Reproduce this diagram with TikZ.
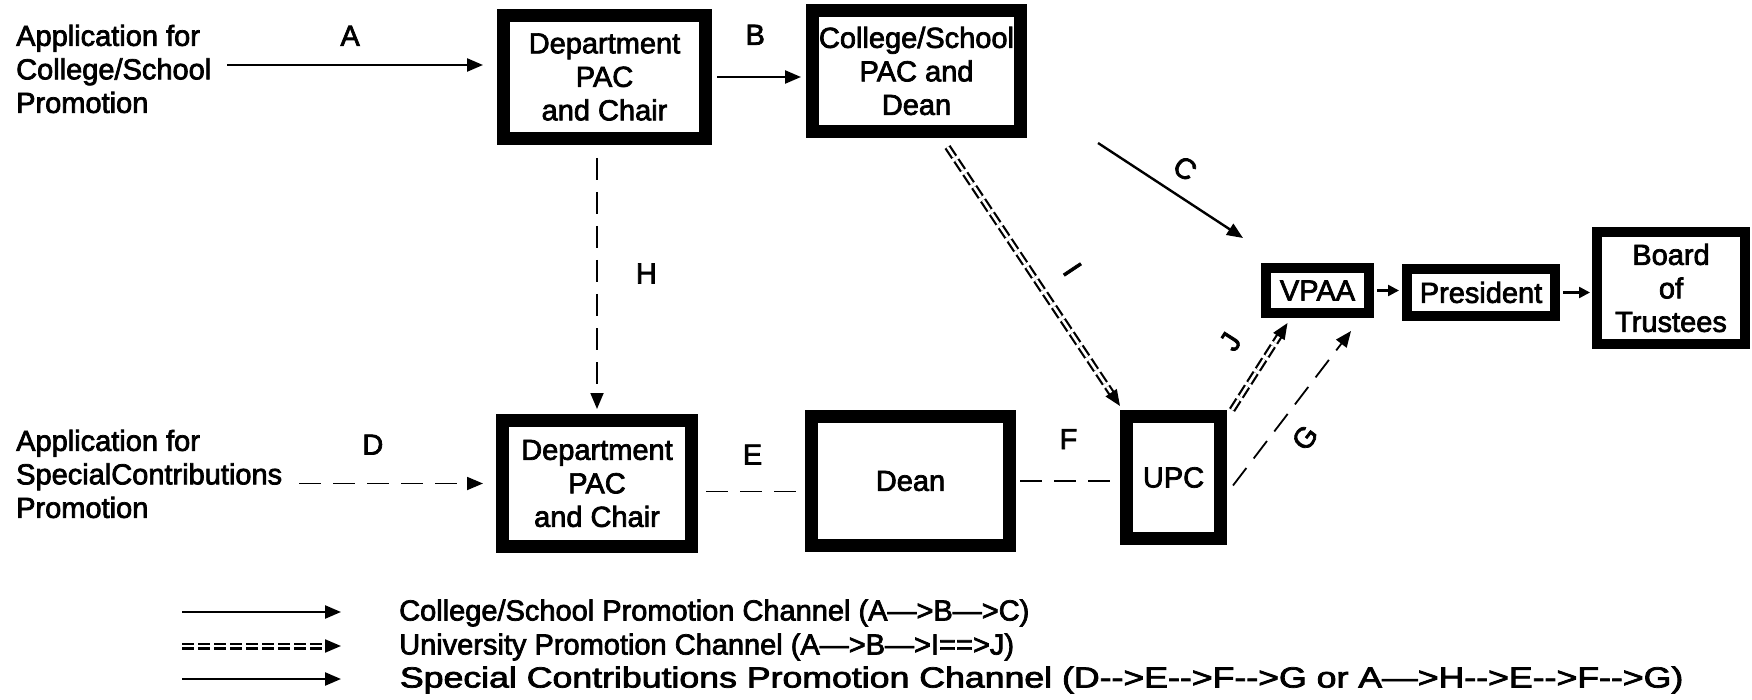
\documentclass[tikz,border=0pt]{standalone}
\usepackage{fontspec}
\setmainfont{Liberation Sans}
\newfontfamily\heavyfont[FakeBold=2.5]{Liberation Sans}
\usetikzlibrary{calc, arrows.meta, positioning}

\begin{document}
\begin{tikzpicture}[x=1pt, y=-1pt,
    every node/.style={font=\heavyfont\fontsize{29}{33.5}\selectfont, inner sep=3pt},
    stage/.style={draw, line width=13pt, inner sep=0pt, align=center},
    smallstage/.style={draw, line width=10pt, inner sep=0pt, align=center},
    arr/.style={line width=2.4pt, -{Triangle[length=16pt, width=13pt]}},
    smallarr/.style={line width=2.4pt, -{Triangle[length=11pt, width=11pt]}},
    darr/.style={line width=1.8pt, dash pattern=on 22pt off 12pt, -{Triangle[length=16pt, width=13pt]}},
    dline/.style={line width=1.8pt, dash pattern=on 22pt off 12pt},
    uarr/.style={double, line width=2.2pt, double distance=2.6pt, dash pattern=on 12pt off 4pt, -{Triangle[length=16pt, width=13pt]}},
  ]
  \useasboundingbox (0,0) rectangle (1752,700);

  % Applications
  \node[anchor=west, align=left] (app1) at (13,69) {Application for\\College/School\\Promotion};
  \node[anchor=west, align=left] (app2) at (13,474) {Application for\\SpecialContributions\\Promotion};

  % Review stages
  \node[stage, minimum width=202pt, minimum height=123pt] (dept1) at (604.5,77) {Department\\PAC\\and Chair};
  \node[stage, minimum width=208pt, minimum height=121pt] (college) at (916.5,71) {College/School\\PAC and\\Dean};
  \node[stage, minimum width=189pt, minimum height=126pt] (dept2) at (597,483.5) {Department\\PAC\\and Chair};
  \node[stage, minimum width=198pt, minimum height=129pt] (dean) at (910.5,481) {Dean};
  \node[stage, minimum width=94pt, minimum height=122pt] (upc) at (1173.5,477.5) {UPC};
  \node[smallstage, minimum width=103pt, minimum height=45pt] (vpaa) at (1317.5,290.5) {VPAA};
  \node[smallstage, minimum width=148pt, minimum height=47pt] (president) at (1481,292.5) {President};
  \node[smallstage, minimum width=148pt, minimum height=112pt] (board) at (1671,288) {Board\\of\\Trustees};

  % College/School channel
  \draw[arr] ($(app1.east)+(13,-4)$) -- ($(app1.east -| dept1.west)+(-14,-4)$)
    node[pos=.48, above=15pt] (labA) {A};
  \draw[arr, shorten <=5pt, shorten >=5pt] (dept1.east) -- (dept1.east -| college.west)
    node[pos=.46, above=28pt] (labB) {B};
  \draw[arr] ($(college.south east)+(71,5)$) -- ($(vpaa.north west)+(-18,-25)$)
    node[pos=.5, sloped, above=12pt] (labC) {C};

  % University channel
  \draw[uarr] ($(college.south)+(31,9)$) -- ($(upc.north west)+(0,-4)$)
    node[pos=.55, sloped, above=22pt] (labI) {I};
  \draw[uarr] ($(upc.north east)+(5,0)$) -- ($(vpaa.south)+(-30,5)$)
    node[pos=.55, sloped, above=24pt] (labJ) {J};

  % Special contributions channel
  \draw[darr] ($(dept2.north |- dept1.south)+(0,13)$) -- ($(dept2.north)+(0,-5)$)
    node[pos=.46, right=35pt] (labH) {H};
  \draw[darr] ($(dept2.west -| app2.east)+(14,0)$) -- ($(dept2.west)+(-13,0)$)
    node[pos=.4, above=25pt] (labD) {D};
  \draw[dline] ($(dept2.east)+(8,8)$) -- ($(dept2.east -| dean.west)+(-6,8)$)
    node[pos=.5, above=23pt] (labE) {E};
  \draw[dline] ($(dean.east)+(4,0)$) -- ($(dean.east -| upc.west)+(-3,0)$)
    node[pos=.5, above=28pt] (labF) {F};
  \draw[darr] ($(upc.east)+(6,8)$) -- ($(vpaa.south east)+(-23,13)$)
    node[pos=.42, sloped, below=14pt] (labG) {G};

  % Final approvals
  \draw[smallarr, shorten <=3pt, shorten >=3pt] (vpaa.east) -- (vpaa.east -| president.west);
  \draw[smallarr, shorten <=3pt, shorten >=2pt] (president.east) -- (president.east -| board.west);

  % Legend
  \node[anchor=west] (leg1) at (396,613) {College/School Promotion Channel (A—>B—>C)};
  \node[anchor=west] (leg2) at (396,647) {University Promotion Channel (A—>B—>I==>J)};
  \node[anchor=west, xscale=1.23, transform shape] (leg3) at (396,680) {Special Contributions Promotion Channel (D-{}->E-{}->F-{}->G or A—>H-{}->E-{}->F-{}->G)};
  \draw[arr] ($(leg1.west)+(-214,-1)$) -- ($(leg1.west)+(-55,-1)$);
  \draw[uarr] ($(leg2.west)+(-214,-1)$) -- ($(leg2.west)+(-55,-1)$);
  \draw[arr] ($(leg3.west)+(-214,-1)$) -- ($(leg3.west)+(-55,-1)$);
\end{tikzpicture}
\end{document}
